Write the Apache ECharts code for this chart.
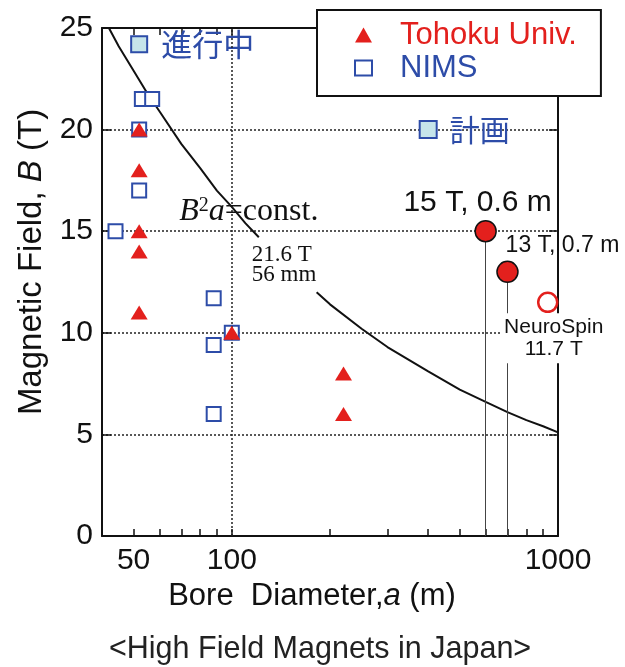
<!DOCTYPE html>
<html><head><meta charset="utf-8">
<script src="https://cdn.jsdelivr.net/npm/echarts@6/dist/echarts.min.js"></script>
<style>html,body{margin:0;padding:0;background:#fff}#c{width:625px;height:667px}</style>
</head><body><div id="c"></div>
<script>
// ---- data ----
var xLabelValues = [50, 100, 1000];
var xTickValues = [50, 60, 70, 80, 90, 100, 200, 300, 400, 500, 600, 700, 800, 900, 1000];
var yTicks = [0, 5, 10, 15, 20, 25];
var xGridValues = [100];

var tohokuA = [52, 52, 52, 52, 52, 100, 220, 220];
var tohokuB = [20, 18, 15, 14, 11, 10, 8, 6];

var nimsA = [44, 52, 52, 53, 57, 88, 88, 88, 100];
var nimsB = [15, 20, 17, 21.5, 21.5, 11.7, 9.4, 6, 10];

var ongoingA = [52];
var ongoingB = [24.2];
var ongoingText = ['進行中'];

var plannedA = [400];
var plannedB = [20];
var plannedText = ['計画'];

var bigA = [600, 700];
var bigB = [15, 13];
var bigText = ['15 T, 0.6 m', '13 T, 0.7 m'];

var neuroA = [930];
var neuroB = [11.5];
var neuroText = ['NeuroSpin\n11.7 T'];

// B^2 a = const. curve (gap where its label sits)
var curveA = [42, 45, 50, 55, 60, 70, 80, 90, 100, 110, 121, 150, 182, 200, 250, 300, 400, 500, 600, 700, 800, 900, 1000];
var curveB = [25.0, 24.1, 22.9, 21.8, 20.9, 19.3, 18.1, 17.0, 16.2, 15.4, 14.7, null, 12.0, 11.4, 10.2, 9.3, 8.1, 7.2, 6.6, 6.1, 5.7, 5.4, 5.1];

var RED = '#e3201d', BLUE = '#2d4ca8', LIGHT = '#c6e5ea';
var SANS = '"Liberation Sans", Arial, sans-serif';
var SERIF = '"Liberation Serif", "Times New Roman", serif';
var CJK = '"Noto Sans CJK JP", sans-serif';

function pairs(a, b) { return a.map(function (v, i) { return [v, b[i] === null ? '-' : b[i]]; }); }

var chart = echarts.init(document.getElementById('c'), null, {renderer: 'canvas'});

var xBase = {
  type: 'log', logBase: 10, min: 40, max: 1000,
  axisLine: {show: true, onZero: false, lineStyle: {color: '#111', width: 2}},
  axisTick: {show: true, inside: true, length: 7, customValues: xTickValues, lineStyle: {color: '#111', width: 1.5}},
  splitLine: {show: false},
  minorTick: {show: false}
};
var yBase = {
  type: 'value', min: 0, max: 25, interval: 5,
  axisLine: {show: true, onZero: false, lineStyle: {color: '#111', width: 2}},
  axisTick: {show: true, inside: true, length: 9, lineStyle: {color: '#111', width: 1.5}}
};

var option = {
  backgroundColor: '#fff',
  animation: false,
  title: {
    text: '<High Field Magnets in Japan>',
    left: 104, top: 629,
    textStyle: {fontFamily: SANS, fontSize: 30.5, fontWeight: 'normal', color: '#222'}
  },
  grid: {left: 102, right: 67, top: 28, bottom: 131, containLabel: false},
  legend: {
    orient: 'vertical', left: 317, top: 10,
    padding: [9, 24, 12, 37],
    itemGap: 1, itemWidth: 17, itemHeight: 15,
    borderColor: '#111', borderWidth: 2, backgroundColor: '#fff',
    textStyle: {fontFamily: SANS, fontSize: 31, lineHeight: 32, padding: [0, 0, 0, 23]},
    data: [
      {name: 'Tohoku Univ.', icon: 'triangle', itemStyle: {color: RED, borderWidth: 0}, textStyle: {color: RED}},
      {name: 'NIMS', icon: 'rect', itemStyle: {color: '#fff', borderColor: BLUE, borderWidth: 2}, textStyle: {color: BLUE}}
    ]
  },
  xAxis: [
    Object.assign({}, xBase, {
      position: 'bottom',
      axisLabel: {show: true, customValues: xLabelValues, margin: 10, fontFamily: SANS, fontSize: 30, color: '#111',
        formatter: function (v) { return String(v); }},
      name: '{n|Bore  Diameter,}{i|a}{n| (m)}',
      nameLocation: 'middle', nameGap: 40,
      nameTextStyle: {padding: [0, 36, 0, 0], rich: {
        n: {fontFamily: SANS, fontSize: 31, color: '#111'},
        i: {fontFamily: SANS, fontSize: 31, fontStyle: 'italic', color: '#111'}
      }}
    }),
    Object.assign({}, xBase, {position: 'top', axisLabel: {show: false}})
  ],
  yAxis: [
    Object.assign({}, yBase, {
      position: 'left',
      axisLabel: {show: true, margin: 9, fontFamily: SANS, fontSize: 30, color: '#111'},
      splitLine: {show: true, lineStyle: {color: '#222', width: 1.5, type: [2, 2]}},
      name: '{n|Magnetic Field, }{i|B}{n| (T)}',
      nameLocation: 'middle', nameGap: 54,
      nameTextStyle: {padding: [0, 0, 0, 40], rich: {
        n: {fontFamily: SANS, fontSize: 33, color: '#111'},
        i: {fontFamily: SANS, fontSize: 33, fontStyle: 'italic', color: '#111'}
      }}
    }),
    Object.assign({}, yBase, {position: 'right', axisLabel: {show: false}, splitLine: {show: false}})
  ],
  series: [
    {
      name: 'curve', type: 'line', showSymbol: false, symbol: 'none',
      data: pairs(curveA, curveB), connectNulls: false,
      lineStyle: {color: '#111', width: 2}, z: 3, silent: true,
      markLine: {
        silent: true, symbol: ['none', 'none'], label: {show: false},
        lineStyle: {color: '#222', width: 1.5, type: [2, 2]},
        data: xGridValues.map(function (v) { return {xAxis: v}; })
      },
      markPoint: {
        symbol: 'rect', symbolSize: 1, itemStyle: {color: 'rgba(0,0,0,0)'},
        data: [
          {coord: [curveA[8], curveB[8]], label: {show: true, position: 'inside', offset: [17, 5],
            formatter: '{i|B}{s|2}{i|a}{n|=const.}',
            rich: {
              i: {fontFamily: SERIF, fontSize: 32, fontStyle: 'italic', color: '#111'},
              s: {fontFamily: SERIF, fontSize: 20, color: '#111', verticalAlign: 'top'},
              n: {fontFamily: SERIF, fontSize: 32, color: '#111'}
            }}},
          {coord: [curveA[10], curveB[10]], label: {show: true, position: 'inside', offset: [-7, 28],
            formatter: '21.6 T\n56 mm', align: 'left',
            fontFamily: SERIF, fontSize: 23, lineHeight: 20, color: '#111'}}
        ]
      }
    },
    {
      name: 'NIMS', type: 'scatter', symbol: 'rect', symbolSize: 14,
      data: pairs(nimsA, nimsB),
      itemStyle: {color: '#fff', borderColor: BLUE, borderWidth: 2, opacity: 1}, z: 4
    },
    {
      name: 'ongoing', type: 'scatter', symbol: 'rect', symbolSize: 16,
      data: pairs(ongoingA, ongoingB),
      itemStyle: {color: LIGHT, borderColor: BLUE, borderWidth: 2, opacity: 1}, z: 4,
      label: {show: true, position: 'right', distance: 13, formatter: function (p) { return ongoingText[p.dataIndex]; },
        fontFamily: CJK, fontSize: 31, color: BLUE}
    },
    {
      name: 'planned', type: 'scatter', symbol: 'rect', symbolSize: 17,
      data: pairs(plannedA, plannedB),
      itemStyle: {color: LIGHT, borderColor: BLUE, borderWidth: 2, opacity: 1}, z: 4,
      label: {show: true, position: 'right', distance: 12, formatter: function (p) { return plannedText[p.dataIndex]; },
        fontFamily: CJK, fontSize: 30, color: BLUE}
    },
    {
      name: 'Tohoku Univ.', type: 'scatter', symbol: 'triangle', symbolSize: [17, 14],
      data: pairs(tohokuA, tohokuB),
      itemStyle: {color: RED, opacity: 1}, z: 5
    },
    {
      name: 'big', type: 'scatter', symbol: 'circle', symbolSize: 21,
      data: bigA.map(function (a, i) {
        return {
          value: [a, bigB[i]],
          label: i === 0
            ? {show: true, position: 'inside', offset: [-8, -28], formatter: bigText[i], fontFamily: SANS, fontSize: 30, color: '#111'}
            : {show: true, position: 'inside', offset: [55, -26], formatter: bigText[i], fontFamily: SANS, fontSize: 23, color: '#111'}
        };
      }),
      itemStyle: {color: RED, borderColor: '#111', borderWidth: 1.5, opacity: 1}, z: 6,
      markLine: {
        silent: true, symbol: ['none', 'none'], label: {show: false},
        lineStyle: {color: '#444', width: 1, type: 'solid'},
        data: bigA.map(function (a, i) { return [{coord: [a, bigB[i]]}, {coord: [a, 0]}]; })
      }
    },
    {
      name: 'neuro', type: 'scatter', symbol: 'circle', symbolSize: 19,
      data: pairs(neuroA, neuroB),
      itemStyle: {color: '#fff', borderColor: RED, borderWidth: 2.5, opacity: 1}, z: 6,
      label: {show: true, position: 'inside', offset: [6, 36], formatter: function (p) { return neuroText[p.dataIndex]; },
        fontFamily: SANS, fontSize: 21, lineHeight: 22, color: '#111', backgroundColor: '#fff', padding: [3, 3, 3, 3]}
    }
  ]
};
chart.setOption(option);
</script></body></html>
